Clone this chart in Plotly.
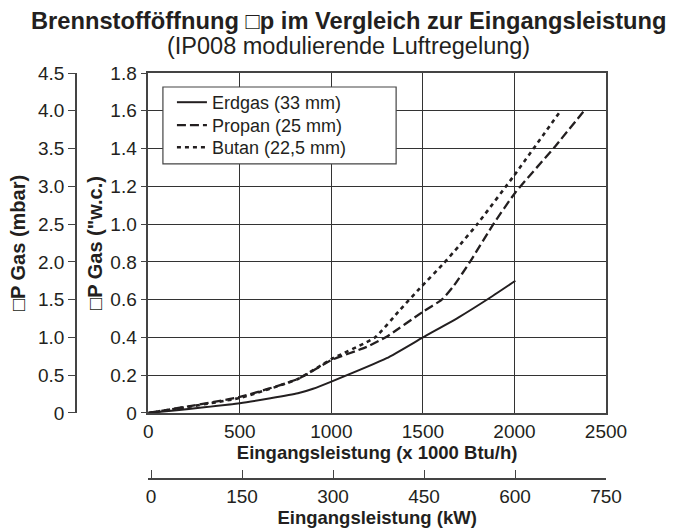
import plotly.graph_objects as go

# ---- data ----
btu_ticks = [0, 500, 1000, 1500, 2000, 2500]
kw_ticks = [0, 150, 300, 450, 600, 750]
wc_ticks = [0, 0.2, 0.4, 0.6, 0.8, 1.0, 1.2, 1.4, 1.6, 1.8]
wc_labels = ["0", "0.2", "0.4", "0.6", "0.8", "1.0", "1.2", "1.4", "1.6", "1.8"]
mbar_ticks = [0, 0.5, 1.0, 1.5, 2.0, 2.5, 3.0, 3.5, 4.0, 4.5]
mbar_labels = ["0", "0.5", "1.0", "1.5", "2.0", "2.5", "3.0", "3.5", "4.0", "4.5"]

erdgas_x = [0, 500, 817, 900, 1000, 1302, 1500, 1693, 1866, 2005]
erdgas_y = [0, 0.052, 0.104, 0.128, 0.166, 0.29, 0.40, 0.505, 0.61, 0.70]

propan_x = [0, 500, 817, 1000, 1193, 1302, 1500, 1603, 1666, 1757, 1885, 2003, 2221, 2376]
propan_y = [0, 0.085, 0.18, 0.28, 0.35, 0.404, 0.536, 0.60, 0.67, 0.80, 1.0, 1.165, 1.41, 1.595]

butan_x = [0, 500, 817, 1000, 1238, 1374, 1483, 1611, 1693, 1793, 2000, 2245]
butan_y = [0, 0.08, 0.18, 0.285, 0.40, 0.545, 0.66, 0.79, 0.88, 0.995, 1.26, 1.59]

TXT = "#231f20"
FONT = "Liberation Sans, Arial, sans-serif"

fig = go.Figure()
fig.add_trace(go.Scatter(x=erdgas_x, y=erdgas_y, mode="lines", name="Erdgas (33 mm)", legend="legend",
                         line=dict(color="#231f20", width=2, shape="spline", smoothing=0.5)))
fig.add_trace(go.Scatter(x=propan_x, y=propan_y, mode="lines", name="Propan (25 mm)", legend="legend2",
                         line=dict(color="#231f20", width=2.3, dash="9px,4px", shape="spline", smoothing=0.5)))
fig.add_trace(go.Scatter(x=butan_x, y=butan_y, mode="lines", name="Butan (22,5 mm)", legend="legend3",
                         line=dict(color="#231f20", width=2.6, dash="4px,4px", shape="spline", smoothing=0.5)))
# invisible traces to carry the secondary axes
fig.add_trace(go.Scatter(x=kw_ticks, y=[None] * len(kw_ticks), xaxis="x2", yaxis="y",
                         mode="lines", showlegend=False, hoverinfo="skip"))
fig.add_trace(go.Scatter(x=[None] * len(mbar_ticks), y=mbar_ticks, xaxis="x", yaxis="y3",
                         mode="lines", showlegend=False, hoverinfo="skip"))

tick_font = dict(family=FONT, size=19, color=TXT)
xtitle_font = dict(family=FONT, size=18.5, color=TXT)
ytitle_font = dict(family=FONT, size=20, color=TXT)
leg_common = dict(x=0.181, xanchor="left", yanchor="top", bgcolor="rgba(0,0,0,0)", borderwidth=0,
                  font=dict(family=FONT, size=18, color=TXT), itemwidth=30)

fig.update_layout(
    width=677, height=529,
    margin=dict(l=76, r=71, t=73, b=50, autoexpand=False),
    paper_bgcolor="white", plot_bgcolor="white",
    font=dict(family=FONT, color=TXT, size=18),
    showlegend=True,
    legend=dict(y=0.9729, **leg_common),
    legend2=dict(y=0.9163, **leg_common),
    legend3=dict(y=0.862, **leg_common),
    shapes=[dict(type="rect", xref="paper", yref="paper",
                 x0=0.164, x1=0.604, y0=0.776, y1=0.9655,
                 line=dict(color="#444", width=1.2), fillcolor="white", layer="above")],
    xaxis=dict(domain=[0.1364, 1], range=[0, 2500], tickvals=btu_ticks,
               showgrid=True, gridcolor="#333", gridwidth=1,
               showline=True, linecolor="#444", linewidth=1.5, mirror=True,
               ticks="", tickfont=tick_font, zeroline=False, automargin=False,
               title=dict(text="<b>Eingangsleistung (x 1000 Btu/h)</b>", font=xtitle_font, standoff=2),
               anchor="y"),
    yaxis=dict(domain=[0.1626, 1], range=[0, 1.8], tickvals=wc_ticks, ticktext=wc_labels,
               showgrid=True, gridcolor="#333", gridwidth=1,
               showline=True, linecolor="#444", linewidth=1.5, mirror=True,
               ticks="outside", ticklen=6, tickcolor="#444", tickfont=tick_font, zeroline=False,
               automargin=False,
               title=dict(text="<b>\u25a1P Gas (\"w.c.)</b>", font=ytitle_font, standoff=2),
               anchor="x"),
    xaxis2=dict(overlaying="x", anchor="free", position=0, side="bottom",
                range=[-4.5, 750], tickvals=kw_ticks,
                showgrid=False, zeroline=False, automargin=False,
                showline=True, linecolor="#444", linewidth=1.5,
                ticks="inside", ticklen=8, tickcolor="#444", tickfont=tick_font,
                title=dict(text="<b>Eingangsleistung (kW)</b>", font=xtitle_font, standoff=2)),
    yaxis3=dict(overlaying="y", anchor="free", position=0, side="left",
                range=[0, 4.5], tickvals=mbar_ticks, ticktext=mbar_labels,
                showgrid=False, zeroline=False, automargin=False,
                showline=True, linecolor="#444", linewidth=1.5,
                ticks="outside", ticklen=7, tickcolor="#444", tickfont=tick_font,
                title=dict(text="<b>\u25a1P Gas (mbar)</b>", font=ytitle_font, standoff=6)),
    annotations=[
        dict(text="<b>Brennstofföffnung \u25a1p im Vergleich zur Eingangsleistung</b>",
             xref="paper", yref="paper", x=0.515, y=1.128, xanchor="center", yanchor="middle",
             showarrow=False, font=dict(family=FONT, size=23.7, color=TXT)),
        dict(text="(IP008 modulierende Luftregelung)",
             xref="paper", yref="paper", x=0.515, y=1.067, xanchor="center", yanchor="middle",
             showarrow=False, font=dict(family=FONT, size=23.5, color=TXT)),
    ],
)

fig.write_html("out.html", config={"displayModeBar": False},
               post_script="document.body.style.margin='0';")
